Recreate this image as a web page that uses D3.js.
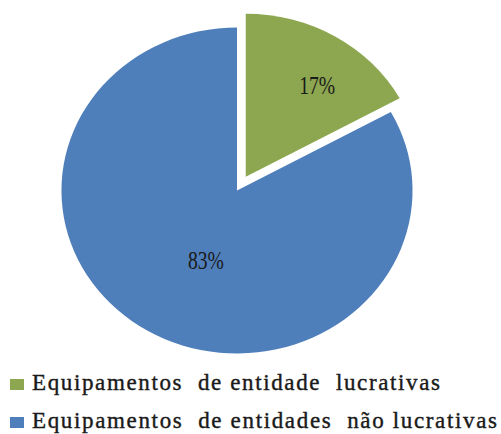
<!DOCTYPE html>
<html>
<head>
<meta charset="utf-8">
<script src="https://cdn.jsdelivr.net/npm/d3@7"></script>
<style>
  body { margin: 0; background: #fff; }
</style>
</head>
<body>
<script>
const WIDTH = 501;
const HEIGHT = 434;

var CATEGORIES = ["Equipamentos  de entidade  lucrativas", "Equipamentos  de entidades  não lucrativas"];
var VALUES = [17, 83];
var LABELS = ["17%", "83%"];
var COLORS = ["#8ca74f", "#4f7fbb"];

var svg = d3
  .select("body")
  .append("svg")
  .attr("width", WIDTH)
  .attr("height", HEIGHT);

var R = 163;
var STRETCH = 1.077; // picture is a bit wider than tall
var cx = 237, cy = 190.5;
var EXPLODE = [16, 0];
var LABEL_R = [112, 75];

var pie = d3.pie().sort(null).value((d) => d);
var slices = pie(VALUES);

var arc = d3.arc().innerRadius(0).outerRadius(R);

//offset of a slice along its bisector
function offset(d, i, dist) {
  var a = (d.startAngle + d.endAngle) / 2;
  return [Math.sin(a) * dist, -Math.cos(a) * dist];
}

var g = svg.append("g").attr("transform", "translate(" + cx + "," + cy + ") scale(" + STRETCH + ",1)");

//slices
g.selectAll("path")
  .data(slices)
  .enter()
  .append("path")
  .attr("d", arc)
  .attr("fill", (d, i) => COLORS[i])
  .attr("transform", (d, i) => {
    var o = offset(d, i, EXPLODE[i]);
    return "translate(" + o[0] + "," + o[1] + ")";
  });

//percent labels
svg.selectAll("text.pct")
  .data(slices)
  .enter()
  .append("text")
  .attr("class", "pct")
  .text((d, i) => LABELS[i])
  .attr("x", (d, i) => {
    var o = offset(d, i, EXPLODE[i] + LABEL_R[i]);
    return cx + o[0] * STRETCH + 10;
  })
  .attr("y", (d, i) => {
    var o = offset(d, i, EXPLODE[i] + LABEL_R[i]);
    return cy + o[1] + 14;
  })
  .attr("text-anchor", "middle")
  .attr("font-family", "Liberation Serif, serif")
  .attr("font-size", "25px")
  .attr("textLength", 36)
  .attr("lengthAdjust", "spacingAndGlyphs")
  .attr("fill", "#1a1a1a");

//legend
var legend = svg.selectAll("g.legend")
  .data(CATEGORIES)
  .enter()
  .append("g")
  .attr("class", "legend")
  .attr("transform", (d, i) => "translate(10," + (390 + i * 38) + ")");

legend.append("rect")
  .attr("x", 0)
  .attr("y", -11)
  .attr("width", 14)
  .attr("height", 11)
  .attr("fill", (d, i) => COLORS[i]);

legend.append("text")
  .text((d) => d)
  .attr("x", 22)
  .attr("y", 0)
  .style("white-space", "pre")
  .attr("font-family", "Liberation Serif, serif")
  .attr("font-size", "23px")
  .attr("textLength", (d, i) => i == 0 ? 408 : 465)
  .attr("lengthAdjust", "spacing")
  .attr("fill", "#1a1a1a")
  .attr("stroke", "#1a1a1a")
  .attr("stroke-width", 0.4);
</script>
</body>
</html>
